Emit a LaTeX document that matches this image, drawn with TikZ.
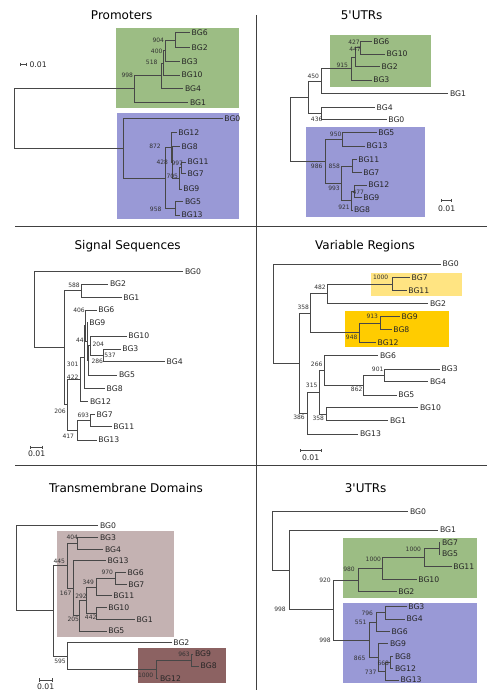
\documentclass[tikz,border=0pt]{standalone}
\usepackage{fontspec}
\setmainfont{DejaVu Sans}
\definecolor{cgreen}{RGB}{156,189,132}
\definecolor{cblue}{RGB}{153,153,214}
\definecolor{cyell}{RGB}{255,228,130}
\definecolor{cgold}{RGB}{255,204,0}
\definecolor{cmauve}{RGB}{196,178,178}
\definecolor{cbrown}{RGB}{140,98,98}
\tikzset{
 br/.style={draw=black!72, line width=0.6pt},
 leaf/.style={anchor=west, inner xsep=1.5pt, inner ysep=0pt, font=\fontsize{7.7}{8}\selectfont, text=black!85},
 sup/.style={inner sep=0pt, font=\fontsize{6}{7}\selectfont, text=black!80},
 sclab/.style={inner sep=0pt, font=\fontsize{7.7}{8}\selectfont, text=black!85},
 ttl/.style={inner sep=0pt, font=\fontsize{12}{14}\selectfont},
 divider/.style={draw=black!75, line width=0.8pt},
 panel/.style={x=0.33333pt, y=-0.33333pt},
}
\begin{document}
\begin{tikzpicture}[x=1pt,y=-1pt]
\fill[white] (0,0) rectangle (490,700);
\useasboundingbox (0,0) rectangle (490,700);
% dividers
\coordinate (dl1) at (15,226); \coordinate (dr1) at (487,226);
\coordinate (dl2) at (15,465); \coordinate (dr2) at (487,465);
\coordinate (vt) at (256,15); \coordinate (vb) at (256,690);
\draw[divider] (dl1) -- (dr1);
\draw[divider] (dl2) -- (dr2);
\draw[divider] (vt) -- (vb);

% ================= Promoters
\begin{scope}[panel]
\fill[cgreen] (348,83) rectangle (718,325);
\fill[cblue] (352,340) rectangle (718,657);
\node[ttl] (aT) at (365,45) {Promoters};
\draw[br] (62,193) -- (80,193) (62,188) -- (62,198) (80,188) -- (80,198);
\node[sclab, anchor=west] (aS) at (88,193) {0.01};
\coordinate (aR) at (42,355);
\coordinate (aG) at (403,266);
\coordinate (a998) at (483,227);
\coordinate (a518) at (490,189);
\coordinate (a400) at (497,152);
\coordinate (a904) at (527,120);
\coordinate (aB) at (370,445);
\coordinate (aN) at (497,534);
\coordinate (a872) at (515,443);
\coordinate (a428) at (517,488);
\coordinate (a705) at (538,535);
\coordinate (a997) at (543,503);
\coordinate (a958) at (525,625);
\node[leaf] (aBG6) at (570,98) {BG6};
\node[leaf] (aBG2) at (570,143) {BG2};
\node[leaf] (aBG3) at (540,185) {BG3};
\node[leaf] (aBG10) at (540,225) {BG10};
\node[leaf] (aBG4) at (550,265) {BG4};
\node[leaf] (aBG1) at (565,307) {BG1};
\node[leaf] (aBG0) at (668,355) {BG0};
\node[leaf] (aBG12) at (530,398) {BG12};
\node[leaf] (aBG8) at (540,440) {BG8};
\node[leaf] (aBG11) at (558,486) {BG11};
\node[leaf] (aBG7) at (558,520) {BG7};
\node[leaf] (aBG9) at (545,567) {BG9};
\node[leaf] (aBG5) at (550,605) {BG5};
\node[leaf] (aBG13) at (540,645) {BG13};
\draw[br] (aR) |- (aG) (aR) |- (aB)
 (aG) |- (a998) (aG) |- (aBG1.west)
 (a998) |- (a518) (a998) |- (aBG4.west)
 (a518) |- (a400) (a518) |- (aBG10.west)
 (a400) |- (a904) (a400) |- (aBG3.west)
 (a904) |- (aBG6.west) (a904) |- (aBG2.west)
 (aB) |- (aBG0.west) (aB) |- (aN)
 (aN) |- (a872) (aN) |- (a958)
 (a872) |- (aBG12.west) (a872) |- (a428)
 (a428) |- (aBG8.west) (a428) |- (a705)
 (a705) |- (a997) (a705) |- (aBG9.west)
 (a997) |- (aBG11.west) (a997) |- (aBG7.west)
 (a958) |- (aBG5.west) (a958) |- (aBG13.west);
\node[sup] (as904) at (475,122) {904};
\node[sup] (as400) at (470,155) {400};
\node[sup] (as518) at (455,188) {518};
\node[sup] (as998) at (382,226) {998};
\node[sup] (as872) at (465,440) {872};
\node[sup] (as428) at (487,488) {428};
\node[sup] (as997) at (532,490) {997};
\node[sup] (as705) at (517,530) {705};
\node[sup] (as958) at (467,627) {958};
\end{scope}

% ================= 5'UTRs
\begin{scope}[shift={(245,0)}, panel]
\fill[cgreen] (255,105) rectangle (557,260);
\fill[cblue] (183,380) rectangle (540,652);
\node[ttl] (bT) at (350,45) {5\textquotesingle UTRs};
\draw[br] (590,602) -- (620,602) (590,597) -- (590,607) (620,597) -- (620,607);
\node[sclab] (bS) at (605,625) {0.01};
\coordinate (bR) at (135,388);
\coordinate (bA) at (190,291);
\coordinate (b450) at (228,243);
\coordinate (b915) at (318,206);
\coordinate (b447) at (332,172);
\coordinate (b427) at (345,143);
\coordinate (b436) at (230,340);
\coordinate (bB) at (242,484);
\coordinate (b950) at (292,418);
\coordinate (b993) at (290,550);
\coordinate (b858) at (322,498);
\coordinate (b921) at (320,602);
\coordinate (b477) at (328,573);
\node[leaf] (bBG6) at (380,125) {BG6};
\node[leaf] (bBG10) at (420,162) {BG10};
\node[leaf] (bBG2) at (405,200) {BG2};
\node[leaf] (bBG3) at (380,240) {BG3};
\node[leaf] (bBG1) at (610,280) {BG1};
\node[leaf] (bBG4) at (390,322) {BG4};
\node[leaf] (bBG0) at (425,358) {BG0};
\node[leaf] (bBG5) at (395,398) {BG5};
\node[leaf] (bBG13) at (360,438) {BG13};
\node[leaf] (bBG11) at (335,478) {BG11};
\node[leaf] (bBG7) at (350,518) {BG7};
\node[leaf] (bBG12) at (365,555) {BG12};
\node[leaf] (bBG9) at (350,592) {BG9};
\node[leaf] (bBG8) at (322,630) {BG8};
\draw[br] (bR) |- (bA) (bR) |- (bB)
 (bA) |- (b450) (bA) |- (b436)
 (b450) |- (b915) (b450) |- (bBG1.west)
 (b915) |- (b447) (b915) |- (bBG3.west)
 (b447) |- (b427) (b447) |- (bBG2.west)
 (b427) |- (bBG6.west) (b427) |- (bBG10.west)
 (b436) |- (bBG4.west) (b436) |- (bBG0.west)
 (bB) |- (b950) (bB) |- (b993)
 (b950) |- (bBG5.west) (b950) |- (bBG13.west)
 (b993) |- (b858) (b993) |- (b921)
 (b858) |- (bBG11.west) (b858) |- (bBG7.west)
 (b921) |- (b477) (b921) |- (bBG8.west)
 (b477) |- (bBG12.west) (b477) |- (bBG9.west);
\node[sup] (bs427) at (327,127) {427};
\node[sup] (bs447) at (330,147) {447};
\node[sup] (bs915) at (292,195) {915};
\node[sup] (bs450) at (205,228) {450};
\node[sup] (bs436) at (215,358) {436};
\node[sup] (bs950) at (272,403) {950};
\node[sup] (bs986) at (215,498) {986};
\node[sup] (bs858) at (268,498) {858};
\node[sup] (bs993) at (267,565) {993};
\node[sup] (bs477) at (340,577) {477};
\node[sup] (bs921) at (297,622) {921};
\end{scope}

% ================= Signal Sequences
\begin{scope}[shift={(0,230)}, panel]
\node[ttl] (cT) at (383,50) {Signal Sequences};
\draw[br] (90,652) -- (128,652) (90,647) -- (90,657) (128,647) -- (128,657);
\node[sclab] (cS) at (110,670) {0.01};
\coordinate (cR) at (103,239);
\coordinate (cX) at (192,353);
\coordinate (c588) at (245,182);
\coordinate (cD) at (203,524);
\coordinate (cC) at (240,448);
\coordinate (cB) at (252,381);
\coordinate (cA) at (255,287);
\coordinate (c44) at (261,334);
\coordinate (c286) at (265,391);
\coordinate (c204) at (272,347);
\coordinate (c537) at (310,376);
\coordinate (c417) at (232,601);
\coordinate (c693) at (270,571);
\node[leaf] (cBG0) at (550,125) {BG0};
\node[leaf] (cBG2) at (325,162) {BG2};
\node[leaf] (cBG1) at (365,202) {BG1};
\node[leaf] (cBG6) at (290,240) {BG6};
\node[leaf] (cBG9) at (263,278) {BG9};
\node[leaf] (cBG10) at (380,318) {BG10};
\node[leaf] (cBG3) at (362,357) {BG3};
\node[leaf] (cBG4) at (495,395) {BG4};
\node[leaf] (cBG5) at (352,435) {BG5};
\node[leaf] (cBG8) at (315,475) {BG8};
\node[leaf] (cBG12) at (265,515) {BG12};
\node[leaf] (cBG7) at (285,553) {BG7};
\node[leaf] (cBG11) at (335,590) {BG11};
\node[leaf] (cBG13) at (290,630) {BG13};
\draw[br] (cR) |- (cBG0.west) (cR) |- (cX)
 (cX) |- (c588) (cX) |- (cD)
 (c588) |- (cBG2.west) (c588) |- (cBG1.west)
 (cD) |- (cC) (cD) |- (c417)
 (cC) |- (cB) (cC) |- (cBG12.west)
 (cB) |- (cA) (cB) |- (cBG8.west)
 (cA) |- (cBG6.west) (cA) |- (c44)
 (c44) |- (cBG9.west) (c44) |- (c286)
 (c286) |- (c204) (c286) |- (cBG5.west)
 (c204) |- (cBG10.west) (c204) |- (c537)
 (c537) |- (cBG3.west) (c537) |- (cBG4.west)
 (c417) |- (c693) (c417) |- (cBG13.west)
 (c693) |- (cBG7.west) (c693) |- (cBG11.west);
\node[sup] (cs588) at (222,167) {588};
\node[sup] (cs406) at (237,242) {406};
\node[sup] (cs44) at (240,330) {44};
\node[sup] (cs204) at (295,342) {204};
\node[sup] (cs537) at (330,375) {537};
\node[sup] (cs286) at (292,395) {286};
\node[sup] (cs301) at (218,402) {301};
\node[sup] (cs422) at (218,442) {422};
\node[sup] (cs206) at (180,545) {206};
\node[sup] (cs693) at (250,555) {693};
\node[sup] (cs417) at (205,618) {417};
\end{scope}

% ================= Variable Regions
\begin{scope}[shift={(245,230)}, panel]
\fill[cyell] (377,128) rectangle (650,197);
\fill[cgold] (300,243) rectangle (612,350);
\node[ttl] (dT) at (360,50) {Variable Regions};
\draw[br] (165,662) -- (230,662) (165,657) -- (165,667) (230,657) -- (230,667);
\node[sclab] (dS) at (197,684) {0.01};
\coordinate (dR) at (85,251);
\coordinate (dX) at (162,400);
\coordinate (d358a) at (195,250);
\coordinate (d482) at (247,191);
\coordinate (d1000) at (443,162);
\coordinate (d948) at (343,308);
\coordinate (d913) at (405,279);
\coordinate (d386) at (187,549);
\coordinate (d315) at (222,487);
\coordinate (d266) at (238,421);
\coordinate (d862) at (355,465);
\coordinate (d901) at (418,436);
\coordinate (d358b) at (245,552);
\node[leaf] (dBG0) at (588,102) {BG0};
\node[leaf] (dBG7) at (495,142) {BG7};
\node[leaf] (dBG11) at (485,182) {BG11};
\node[leaf] (dBG2) at (550,220) {BG2};
\node[leaf] (dBG9) at (465,260) {BG9};
\node[leaf] (dBG8) at (440,298) {BG8};
\node[leaf] (dBG12) at (393,338) {BG12};
\node[leaf] (dBG6) at (400,377) {BG6};
\node[leaf] (dBG3) at (585,417) {BG3};
\node[leaf] (dBG4) at (550,455) {BG4};
\node[leaf] (dBG5) at (455,495) {BG5};
\node[leaf] (dBG10) at (520,533) {BG10};
\node[leaf] (dBG1) at (430,572) {BG1};
\node[leaf] (dBG13) at (340,612) {BG13};
\draw[br] (dR) |- (dBG0.west) (dR) |- (dX)
 (dX) |- (d358a) (dX) |- (d386)
 (d358a) |- (d482) (d358a) |- (d948)
 (d482) |- (d1000) (d482) |- (dBG2.west)
 (d1000) |- (dBG7.west) (d1000) |- (dBG11.west)
 (d948) |- (d913) (d948) |- (dBG12.west)
 (d913) |- (dBG9.west) (d913) |- (dBG8.west)
 (d386) |- (d315) (d386) |- (dBG13.west)
 (d315) |- (d266) (d315) |- (d358b)
 (d266) |- (dBG6.west) (d266) |- (d862)
 (d862) |- (d901) (d862) |- (dBG5.west)
 (d901) |- (dBG3.west) (d901) |- (dBG4.west)
 (d358b) |- (dBG10.west) (d358b) |- (dBG1.west);
\node[sup] (ds1000) at (407,142) {1000};
\node[sup] (ds482) at (225,173) {482};
\node[sup] (ds358a) at (175,232) {358};
\node[sup] (ds913) at (382,260) {913};
\node[sup] (ds948) at (320,322) {948};
\node[sup] (ds266) at (215,403) {266};
\node[sup] (ds901) at (398,417) {901};
\node[sup] (ds315) at (200,467) {315};
\node[sup] (ds862) at (335,478) {862};
\node[sup] (ds386) at (162,562) {386};
\node[sup] (ds358b) at (220,565) {358};
\end{scope}

% ================= Transmembrane Domains
\begin{scope}[shift={(0,460)}, panel]
\fill[cmauve] (170,212) rectangle (522,530);
\fill[cbrown] (413,563) rectangle (678,670);
\node[ttl] (eT) at (378,85) {Transmembrane Domains};
\draw[br] (117,660) -- (158,660) (117,655) -- (117,665) (158,655) -- (158,665);
\node[sclab] (eS) at (137,680) {0.01};
\coordinate (eR) at (50,325);
\coordinate (eY) at (160,452);
\coordinate (e445) at (203,317);
\coordinate (e404) at (232,250);
\coordinate (e167) at (220,384);
\coordinate (e205) at (237,467);
\coordinate (e292) at (260,421);
\coordinate (e349) at (288,381);
\coordinate (e970) at (345,355);
\coordinate (e442) at (290,460);
\coordinate (e595) at (203,588);
\coordinate (e1000) at (470,627);
\coordinate (e963) at (575,600);
\node[leaf] (eBG0) at (295,197) {BG0};
\node[leaf] (eBG3) at (295,232) {BG3};
\node[leaf] (eBG4) at (310,268) {BG4};
\node[leaf] (eBG13) at (318,302) {BG13};
\node[leaf] (eBG6) at (378,337) {BG6};
\node[leaf] (eBG7) at (380,373) {BG7};
\node[leaf] (eBG11) at (335,407) {BG11};
\node[leaf] (eBG10) at (320,443) {BG10};
\node[leaf] (eBG1) at (405,478) {BG1};
\node[leaf] (eBG5) at (320,513) {BG5};
\node[leaf] (eBG2) at (515,548) {BG2};
\node[leaf] (eBG9) at (580,582) {BG9};
\node[leaf] (eBG8) at (597,618) {BG8};
\node[leaf] (eBG12) at (475,655) {BG12};
\draw[br] (eR) |- (eBG0.west) (eR) |- (eY)
 (eY) |- (e445) (eY) |- (e595)
 (e445) |- (e404) (e445) |- (e167)
 (e404) |- (eBG3.west) (e404) |- (eBG4.west)
 (e167) |- (eBG13.west) (e167) |- (e205)
 (e205) |- (e292) (e205) |- (eBG5.west)
 (e292) |- (e349) (e292) |- (e442)
 (e349) |- (e970) (e349) |- (eBG11.west)
 (e970) |- (eBG6.west) (e970) |- (eBG7.west)
 (e442) |- (eBG10.west) (e442) |- (eBG1.west)
 (e595) |- (eBG2.west) (e595) |- (e1000)
 (e1000) |- (e963) (e1000) |- (eBG12.west)
 (e963) |- (eBG9.west) (e963) |- (eBG8.west);
\node[sup] (es404) at (217,232) {404};
\node[sup] (es445) at (178,305) {445};
\node[sup] (es970) at (322,337) {970};
\node[sup] (es349) at (265,368) {349};
\node[sup] (es167) at (197,400) {167};
\node[sup] (es292) at (243,408) {292};
\node[sup] (es442) at (272,473) {442};
\node[sup] (es205) at (220,478) {205};
\node[sup] (es595) at (180,603) {595};
\node[sup] (es963) at (552,582) {963};
\node[sup] (es1000) at (437,645) {1000};
\end{scope}

% ================= 3'UTRs
\begin{scope}[shift={(245,460)}, panel]
\fill[cgreen] (293,233) rectangle (697,413);
\fill[cblue] (293,430) rectangle (697,668);
\node[ttl] (fT) at (362,85) {3\textquotesingle UTRs};
\coordinate (fR) at (82,244);
\coordinate (f133) at (133,332);
\coordinate (f920) at (265,447);
\coordinate (f980) at (340,360);
\coordinate (f1000b) at (413,325);
\coordinate (f538) at (538,292);
\coordinate (f1000a) at (583,265);
\coordinate (f998) at (372,540);
\coordinate (f551) at (395,487);
\coordinate (f796) at (420,458);
\coordinate (f865) at (400,592);
\coordinate (f737) at (420,634);
\coordinate (f668) at (435,607);
\node[leaf] (fBG0) at (490,155) {BG0};
\node[leaf] (fBG1) at (580,210) {BG1};
\node[leaf] (fBG7) at (586,248) {BG7};
\node[leaf] (fBG5) at (586,282) {BG5};
\node[leaf] (fBG11) at (620,320) {BG11};
\node[leaf] (fBG10) at (515,358) {BG10};
\node[leaf] (fBG2) at (455,395) {BG2};
\node[leaf] (fBG3) at (485,440) {BG3};
\node[leaf] (fBG4) at (480,477) {BG4};
\node[leaf] (fBG6) at (435,515) {BG6};
\node[leaf] (fBG9) at (430,550) {BG9};
\node[leaf] (fBG8) at (445,590) {BG8};
\node[leaf] (fBG12) at (445,625) {BG12};
\node[leaf] (fBG13) at (462,660) {BG13};
\draw[br] (fR) |- (fBG0.west) (fR) |- (f133)
 (f133) |- (fBG1.west) (f133) |- (f920)
 (f920) |- (f980) (f920) |- (f998)
 (f980) |- (f1000b) (f980) |- (fBG2.west)
 (f1000b) |- (f538) (f1000b) |- (fBG10.west)
 (f538) |- (f1000a) (f538) |- (fBG11.west)
 (f1000a) |- (fBG7.west) (f1000a) |- (fBG5.west)
 (f998) |- (f551) (f998) |- (f865)
 (f551) |- (f796) (f551) |- (fBG6.west)
 (f796) |- (fBG3.west) (f796) |- (fBG4.west)
 (f865) |- (fBG9.west) (f865) |- (f737)
 (f737) |- (f668) (f737) |- (fBG13.west)
 (f668) |- (fBG8.west) (f668) |- (fBG12.west);
\node[sup] (fs1000a) at (505,268) {1000};
\node[sup] (fs1000b) at (385,298) {1000};
\node[sup] (fs980) at (312,328) {980};
\node[sup] (fs920) at (240,362) {920};
\node[sup] (fs998b) at (240,542) {998};
\node[sup] (fs998a) at (105,447) {998};
\node[sup] (fs796) at (367,460) {796};
\node[sup] (fs551) at (347,488) {551};
\node[sup] (fs865) at (344,596) {865};
\node[sup] (fs668) at (415,610) {668};
\node[sup] (fs737) at (377,638) {737};
\end{scope}
\end{tikzpicture}
\end{document}
